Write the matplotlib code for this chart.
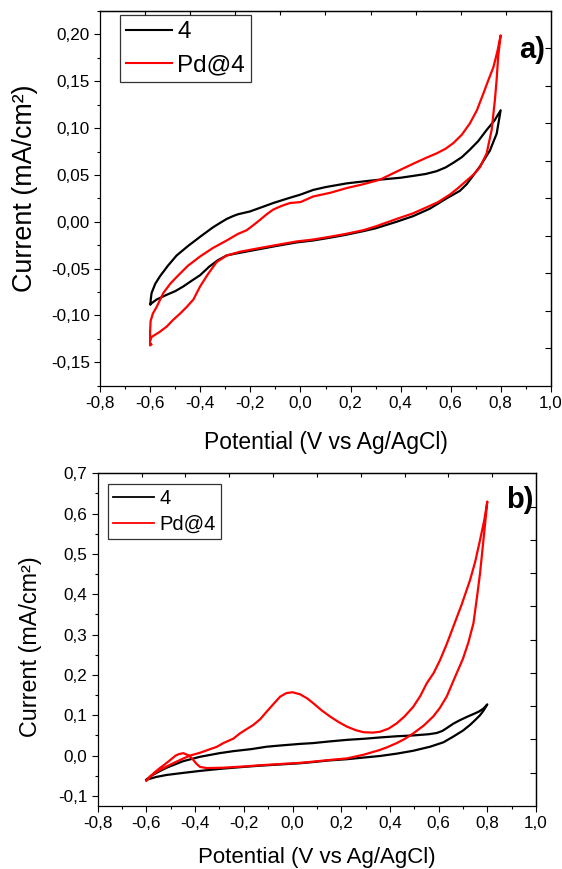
import numpy as np
import matplotlib
matplotlib.use("Agg")
import matplotlib.pyplot as plt
from matplotlib.ticker import FixedLocator, MultipleLocator, FuncFormatter, NullLocator

# ---------------- data: cyclic voltammograms ----------------
# panel a) - compound 4
a_4_x = [-0.600, -0.598, -0.595, -0.580, -0.561, -0.530, -0.495, -0.450, -0.401, -0.350,
         -0.320, -0.295, -0.270, -0.250, -0.202, -0.150, -0.109, -0.050, 0.000, 0.051,
         0.100, 0.185, 0.250, 0.318, 0.400, 0.451, 0.500, 0.544, 0.580, 0.611,
         0.645, 0.677, 0.710, 0.744, 0.775, 0.800,
         0.784, 0.757, 0.717, 0.664, 0.637, 0.584, 0.517, 0.450, 0.384, 0.300,
         0.251, 0.180, 0.118, 0.050, -0.015, -0.100, -0.200, -0.260, -0.295, -0.330,
         -0.365, -0.401, -0.435, -0.468, -0.500, -0.535, -0.575, -0.600]
a_4_y = [-0.088, -0.082, -0.076, -0.066, -0.058, -0.047, -0.036, -0.026, -0.016, -0.006,
         -0.001, 0.003, 0.006, 0.008, 0.011, 0.016, 0.020, 0.025, 0.029, 0.034,
         0.037, 0.041, 0.043, 0.045, 0.047, 0.049, 0.051, 0.054, 0.058, 0.063,
         0.069, 0.077, 0.086, 0.098, 0.108, 0.119,
         0.094, 0.076, 0.059, 0.040, 0.033, 0.025, 0.014, 0.006, 0.000, -0.007,
         -0.010, -0.014, -0.017, -0.020, -0.022, -0.026, -0.031, -0.034, -0.036, -0.041,
         -0.048, -0.057, -0.063, -0.069, -0.074, -0.078, -0.083, -0.088]

# panel a) - Pd@4
a_pd_x = [-0.596, -0.601, -0.601, -0.599, -0.590, -0.575, -0.548, -0.520, -0.495, -0.450,
          -0.401, -0.350, -0.295, -0.250, -0.215, -0.190, -0.162, -0.135, -0.109, -0.075,
          -0.042, 0.000, 0.051, 0.120, 0.185, 0.250, 0.318, 0.380, 0.451, 0.500,
          0.544, 0.580, 0.611, 0.645, 0.677, 0.705, 0.731, 0.752, 0.771, 0.787, 0.800,
          0.790, 0.784, 0.777, 0.764, 0.744, 0.717, 0.690, 0.664, 0.630, 0.597,
          0.550, 0.517, 0.450, 0.384, 0.300, 0.251, 0.180, 0.118, 0.050, -0.015,
          -0.100, -0.162, -0.242, -0.295, -0.335, -0.370, -0.401, -0.428, -0.455, -0.481,
          -0.510, -0.535, -0.565, -0.595, -0.600]
a_pd_y = [-0.131, -0.132, -0.118, -0.106, -0.098, -0.091, -0.076, -0.066, -0.059, -0.047,
          -0.037, -0.028, -0.020, -0.013, -0.009, -0.004, 0.002, 0.008, 0.013, 0.017,
          0.020, 0.021, 0.027, 0.031, 0.036, 0.040, 0.045, 0.053, 0.062, 0.068,
          0.073, 0.078, 0.084, 0.093, 0.105, 0.119, 0.137, 0.152, 0.165, 0.182, 0.199,
          0.176, 0.152, 0.130, 0.098, 0.073, 0.058, 0.050, 0.044, 0.036, 0.029,
          0.021, 0.017, 0.009, 0.003, -0.005, -0.009, -0.013, -0.016, -0.019, -0.021,
          -0.025, -0.028, -0.032, -0.036, -0.043, -0.056, -0.069, -0.083, -0.091, -0.098,
          -0.105, -0.112, -0.118, -0.123, -0.126]

# panel b) - compound 4
b_4_x = [-0.600, -0.580, -0.550, -0.517, -0.450, -0.380, -0.300, -0.243, -0.170, -0.106,
         -0.051, 0.031, 0.085, 0.150, 0.223, 0.300, 0.359, 0.430, 0.496, 0.560,
         0.592, 0.615, 0.633, 0.660, 0.688, 0.720, 0.743, 0.765, 0.785, 0.800,
         0.785, 0.770, 0.750, 0.729, 0.700, 0.660, 0.620, 0.565, 0.496, 0.430,
         0.359, 0.290, 0.223, 0.150, 0.085, 0.031, -0.051, -0.133, -0.200, -0.300,
         -0.380, -0.450, -0.517, -0.560, -0.600]
b_4_y = [-0.060, -0.050, -0.040, -0.030, -0.014, -0.003, 0.006, 0.011, 0.016, 0.022,
         0.025, 0.029, 0.031, 0.035, 0.039, 0.042, 0.045, 0.048, 0.050, 0.053,
         0.056, 0.061, 0.068, 0.079, 0.088, 0.097, 0.103, 0.109, 0.117, 0.127,
         0.112, 0.100, 0.088, 0.076, 0.062, 0.047, 0.033, 0.022, 0.012, 0.005,
         -0.001, -0.005, -0.009, -0.012, -0.016, -0.019, -0.022, -0.025, -0.028, -0.033,
         -0.038, -0.043, -0.048, -0.053, -0.060]

# panel b) - Pd@4
b_pd_x = [-0.600, -0.580, -0.558, -0.520, -0.490, -0.455, -0.421, -0.380, -0.352, -0.310,
          -0.284, -0.243, -0.216, -0.190, -0.161, -0.133, -0.106, -0.075, -0.051, -0.025,
          0.000, 0.031, 0.060, 0.085, 0.120, 0.154, 0.190, 0.223, 0.260, 0.291,
          0.330, 0.359, 0.395, 0.428, 0.460, 0.496, 0.525, 0.551, 0.580, 0.606,
          0.633, 0.660, 0.695, 0.729, 0.750, 0.770, 0.788, 0.800,
          0.791, 0.780, 0.770, 0.757, 0.743, 0.722, 0.700, 0.674, 0.650, 0.633,
          0.605, 0.578, 0.540, 0.496, 0.460, 0.428, 0.390, 0.359, 0.291, 0.223,
          0.150, 0.085, 0.031, -0.051, -0.133, -0.200, -0.284, -0.352, -0.380, -0.395,
          -0.407, -0.425, -0.448, -0.465, -0.480, -0.500, -0.525, -0.545, -0.565, -0.585,
          -0.600]
b_pd_y = [-0.062, -0.050, -0.040, -0.028, -0.019, -0.009, 0.000, 0.007, 0.013, 0.022,
          0.031, 0.042, 0.055, 0.065, 0.076, 0.090, 0.109, 0.130, 0.146, 0.155,
          0.157, 0.152, 0.142, 0.130, 0.112, 0.097, 0.083, 0.072, 0.063, 0.058,
          0.057, 0.059, 0.067, 0.080, 0.097, 0.121, 0.148, 0.179, 0.205, 0.237,
          0.276, 0.319, 0.375, 0.435, 0.480, 0.534, 0.585, 0.630,
          0.575, 0.510, 0.451, 0.390, 0.328, 0.280, 0.240, 0.204, 0.170, 0.146,
          0.118, 0.097, 0.075, 0.055, 0.041, 0.031, 0.021, 0.014, 0.002, -0.007,
          -0.011, -0.015, -0.018, -0.021, -0.024, -0.027, -0.030, -0.031, -0.028, -0.020,
          -0.011, 0.000, 0.006, 0.004, 0.000, -0.010, -0.022, -0.031, -0.041, -0.052,
          -0.062]

series_labels = ["4", "Pd@4"]
series_colors = ["#000000", "#ff0000"]

x_ticks = [-0.8, -0.6, -0.4, -0.2, 0.0, 0.2, 0.4, 0.6, 0.8, 1.0]
a_y_ticks = [-0.15, -0.10, -0.05, 0.00, 0.05, 0.10, 0.15, 0.20]
b_y_ticks = [-0.1, 0.0, 0.1, 0.2, 0.3, 0.4, 0.5, 0.6, 0.7]
x_lim = (-0.8, 1.0)
a_y_lim = (-0.175, 0.225)
b_y_lim = (-0.125, 0.70)

x_label = "Potential (V vs Ag/AgCl)"
y_label = "Current (mA/cm²)"

# ---------------- figure ----------------
W, H = 562, 869
fig = plt.figure(figsize=(W / 100, H / 100), dpi=100)
plt.rcParams["font.family"] = ["Liberation Sans", "DejaVu Sans"]


def px_axes(left, top, right, bottom):
    return fig.add_axes([left / W, 1 - bottom / H, (right - left) / W, (bottom - top) / H])


def comma(decimals):
    def f(v, pos):
        if abs(v) < 1e-9:
            v = 0.0
        return f"{v:.{decimals}f}".replace(".", ",")
    return FuncFormatter(f)


def style_axes(ax, ylim, yticks, yminor, ydec, tick_fs, top_len, right_len):
    ax.set_xlim(*x_lim)
    ax.set_ylim(*ylim)
    ax.xaxis.set_major_locator(FixedLocator(x_ticks))
    ax.xaxis.set_minor_locator(MultipleLocator(0.1))
    ax.yaxis.set_major_locator(FixedLocator(yticks))
    ax.yaxis.set_minor_locator(MultipleLocator(yminor))
    ax.xaxis.set_major_formatter(comma(1))
    ax.yaxis.set_major_formatter(comma(ydec))
    ax.tick_params(which="both", direction="out", top=False, right=False, width=0.8,
                   labelsize=tick_fs, pad=3.2)
    ax.tick_params(which="major", length=4.2)
    ax.tick_params(which="minor", length=2.5)
    for s in ax.spines.values():
        s.set_linewidth(0.9)
    # mirrored axes with their own tick spacing (ten divisions of the range)
    secx = ax.secondary_xaxis("top")
    secx.set_xticks(np.linspace(x_lim[0], x_lim[1], 11)[1:-1])
    secx.xaxis.set_minor_locator(NullLocator())
    secx.tick_params(direction="in", length=top_len, width=0.8, labeltop=False)
    secx.spines["top"].set_linewidth(0.9)
    secy = ax.secondary_yaxis("right")
    secy.set_yticks(np.linspace(ylim[0], ylim[1], 11)[1:-1])
    secy.yaxis.set_minor_locator(NullLocator())
    secy.tick_params(direction="in", length=right_len, width=0.8, labelright=False)
    secy.spines["right"].set_linewidth(0.9)


def framed_legend(ax, anchor, fs, hl, htp, bp, ls, lw):
    leg = ax.legend(loc="upper left", bbox_to_anchor=anchor, borderaxespad=0,
                    fontsize=fs, frameon=True, fancybox=False, shadow=False,
                    handlelength=hl, handletextpad=htp, borderpad=bp, labelspacing=ls)
    leg.get_frame().set_edgecolor("black")
    leg.get_frame().set_linewidth(0.9)
    for ln in leg.get_lines():
        ln.set_linewidth(lw)
    return leg


# ---- panel a) ----
ax1 = px_axes(100.3, 11, 550.7, 385.7)
ax1.plot(a_4_x, a_4_y, color=series_colors[0], lw=1.6, label=series_labels[0],
         solid_joinstyle="round")
ax1.plot(a_pd_x, a_pd_y, color=series_colors[1], lw=1.6, label=series_labels[1],
         solid_joinstyle="round")
style_axes(ax1, a_y_lim, a_y_ticks, 0.025, 2, 12.3, 3.0, 4.2)
framed_legend(ax1, (0.0437, 0.9893), 17.5, 1.9, 0.2, 0.25, 0.45, 1.5)
fig.text(519 / W, 1 - 58.3 / H, "a)", fontsize=21, fontweight="bold",
         ha="left", va="baseline")
fig.text(325.5 / W, 1 - 449 / H, x_label, fontsize=16.5,
         ha="center", va="baseline")
fig.text(25 / W, 1 - 188 / H, y_label, fontsize=19.4, rotation=90,
         ha="center", va="center")

# ---- panel b) ----
ax2 = px_axes(97.7, 473.3, 536.0, 806.0)
ax2.plot(b_4_x, b_4_y, color=series_colors[0], lw=1.6, label=series_labels[0],
         solid_joinstyle="round")
ax2.plot(b_pd_x, b_pd_y, color=series_colors[1], lw=1.6, label=series_labels[1],
         solid_joinstyle="round")
style_axes(ax2, b_y_lim, b_y_ticks, 0.05, 1, 12.3, 3.0, 4.2)
framed_legend(ax2, (0.0242, 0.9678), 14.5, 2.0, 0.3, 0.25, 0.35, 1.3)
fig.text(506 / W, 1 - 508.3 / H, "b)", fontsize=21, fontweight="bold",
         ha="left", va="baseline")
fig.text(316.5 / W, 1 - 863 / H, x_label, fontsize=16,
         ha="center", va="baseline")
fig.text(31 / W, 1 - 647 / H, y_label, fontsize=16.8, rotation=90,
         ha="center", va="center")

fig.savefig("out.png", dpi=100)
